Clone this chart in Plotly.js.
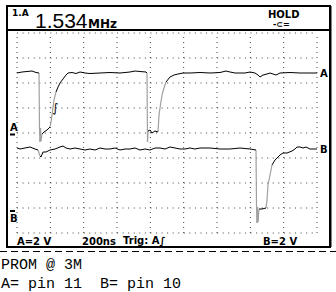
<!DOCTYPE html>
<html><head><meta charset="utf-8">
<script src="https://cdn.plot.ly/plotly-3.0.1.min.js"></script>
<style>html,body{margin:0;padding:0;background:#fff}#chart{width:336px;height:292px}</style>
</head><body><div id="chart"></div>
<script>
// Channel A (pin 11): time in ns, voltage in V (2 V/div, 200 ns/div)
const timeA = [0,30,60,90,114,132,135,138,141,144,150,162,180,198,204,210,216,222,234,246,258,276,294,306,330,354,378,408,438,498,558,618,678,708,738,774,780,783,786,798,810,828,846,852,858,870,882,894,918,942,966,996,1038,1098,1158,1218,1254,1278,1308,1368,1398,1428,1446,1458,1476,1500,1518,1536,1554,1578,1638,1698,1758,1806];
const voltA = [4.80,4.88,4.92,4.96,4.84,4.80,0.40,-0.72,0.40,-0.64,-0.08,0.08,0.24,0.48,0.88,1.44,2.00,2.64,3.28,3.68,4.00,4.32,4.64,4.80,4.84,4.76,4.88,4.80,4.76,4.80,4.84,4.80,4.88,4.96,4.92,4.88,4.80,-0.72,0.16,0.24,0.00,0.16,0.08,1.44,2.00,3.04,3.60,4.08,4.48,4.64,4.72,4.80,4.80,4.84,4.80,4.84,4.96,4.88,4.80,4.80,4.88,4.80,4.64,4.48,4.64,4.72,4.80,4.72,4.64,4.80,4.84,4.80,4.80,4.80];
// Channel B (pin 10)
const timeB = [0,18,48,78,108,126,138,144,156,174,198,228,258,276,294,318,348,378,408,438,468,498,528,558,588,618,648,678,708,738,768,798,828,858,888,918,948,978,1008,1038,1068,1098,1158,1218,1278,1338,1398,1434,1437,1440,1443,1446,1452,1470,1494,1500,1506,1518,1530,1548,1566,1578,1596,1620,1650,1668,1680,1698,1716,1734,1758,1806];
const voltB = [4.96,4.88,4.96,5.04,4.88,4.80,4.32,4.24,4.64,4.64,4.80,4.88,5.04,5.12,4.96,4.88,4.96,4.88,4.80,4.88,4.80,4.96,4.88,4.88,4.96,4.80,4.88,4.88,4.96,4.80,4.88,4.80,4.96,4.96,4.88,5.04,4.96,4.88,4.88,4.96,4.88,4.96,4.96,4.88,4.88,4.96,4.88,4.80,0.40,-1.04,0.24,-0.96,0.08,0.08,0.16,0.80,2.00,2.80,3.60,4.00,4.24,4.40,4.56,4.56,4.72,4.88,5.04,5.04,4.96,5.04,4.88,4.88];

const headerReading = "1.534";
const headerUnit = "MHz";
const statusA = "A=2 V", statusTime = "200ns", statusTrig = "Trig: A∫", statusB = "B=2 V";
const noteLines = ["PROM @ 3M", "A= pin 11  B= pin 10"];

// plot area in pixels
const L = 17, R = 317, T = 33, B = 233, W = 336, H = 292;
const px = x => (x - L) / (R - L);
const py = y => (B - y) / (B - T);

function splitTrace(t, v, yaxis, pxPerV) {
  const blk = {x: [], y: []}, gry = {x: [], y: []};
  for (let i = 0; i < t.length - 1; i++) {
    const dxp = (t[i+1] - t[i]) / 6;
    const dyp = Math.abs(v[i+1] - v[i]) * pxPerV;
    const tgt = (dyp / Math.max(dxp, 0.01) > 2.6) ? gry : blk;
    tgt.x.push(t[i], t[i+1], null);
    tgt.y.push(v[i], v[i+1], null);
  }
  return [
    {x: gry.x, y: gry.y, yaxis: yaxis, mode: 'lines', line: {color: '#a0a0a0', width: 1.2}, hoverinfo: 'skip', showlegend: false},
    {x: blk.x, y: blk.y, yaxis: yaxis, mode: 'lines', line: {color: '#000', width: 1}, hoverinfo: 'skip', showlegend: false}
  ];
}

const data = [].concat(splitTrace(timeA, voltA, 'y', 12.5), splitTrace(timeB, voltB, 'y2', 12.5));

const shapes = [];
// dotted grid
for (let k = 0; k <= 8; k++) {
  const y = T + 25 * k;
  shapes.push({type: 'line', xref: 'paper', yref: 'paper', x0: 0, x1: 1, y0: py(y), y1: py(y), line: {color: '#444', width: 1, dash: '1px,4.56px'}, layer: 'below'});
}
for (let k = 0; k <= 9; k++) {
  const x = L + 100 / 3 * k;
  shapes.push({type: 'line', xref: 'paper', yref: 'paper', x0: px(x), x1: px(x), y0: 0, y1: 1, line: {color: '#444', width: 1, dash: '1px,4px'}, layer: 'below'});
}
// frame
shapes.push({type: 'rect', xref: 'paper', yref: 'paper', x0: px(7), x1: px(330), y0: py(6), y1: py(247), line: {color: '#000', width: 2}});
shapes.push({type: 'line', xref: 'paper', yref: 'paper', x0: px(330.5), x1: px(330.5), y0: py(6), y1: py(247), line: {color: '#000', width: 2}});
shapes.push({type: 'line', xref: 'paper', yref: 'paper', x0: px(7), x1: px(330), y0: py(30), y1: py(30), line: {color: '#000', width: 2}});
// ground markers
shapes.push({type: 'line', xref: 'paper', yref: 'paper', x0: px(10), x1: px(15), y0: py(134.5), y1: py(134.5), line: {color: '#000', width: 2}});
shapes.push({type: 'line', xref: 'paper', yref: 'paper', x0: px(10), x1: px(15), y0: py(211), y1: py(211), line: {color: '#000', width: 2}});
// dashed separator
shapes.push({type: 'line', xref: 'paper', yref: 'paper', x0: px(0), x1: px(336), y0: py(251.5), y1: py(251.5), line: {color: '#000', width: 1, dash: '7px,4px'}});

const bold = {family: 'DejaVu Sans', weight: 'bold', color: '#000'};
function ann(text, x, y, size, opts) {
  return Object.assign({text: text, xref: 'paper', yref: 'paper', x: px(x), y: py(y), showarrow: false,
    xanchor: 'left', yanchor: 'middle', borderpad: 0,
    font: Object.assign({}, bold, {size: size})}, opts || {});
}
const mono = {family: 'Liberation Mono', size: 15, color: '#000'};
const annotations = [
  ann('1.A', 11, 13, 9),
  ann(headerReading, 34, 20, 21, {font: {family: 'Liberation Sans', size: 21, color: '#000'}}),
  ann(headerUnit, 87, 24, 12),
  ann('HOLD', 267, 14, 10),
  ann('-⊂=', 272, 24, 8),
  ann('A', 319, 73, 10),
  ann('B', 319, 149, 10),
  ann('A', 9, 127, 10),
  ann('B', 9, 218, 10),
  ann('∫', 51, 108, 12, {font: {family: 'DejaVu Sans', size: 12, color: '#000'}}),
  ann(statusA, 16, 241, 10),
  ann(statusTime, 81, 241, 10),
  ann(statusTrig, 122, 241, 10),
  ann(statusB, 262, 241, 10),
  ann(noteLines[0], 0, 265, 15, {font: mono}),
  ann(noteLines[1], 0, 284, 15, {font: mono})
];

const layout = {
  width: W, height: H,
  margin: {l: L, r: W - R, t: T, b: H - B, pad: 0},
  paper_bgcolor: '#fff', plot_bgcolor: '#fff',
  xaxis: {range: [0, 1800], showgrid: false, zeroline: false, showticklabels: false, ticks: '', showline: false, fixedrange: true},
  yaxis: {range: [-8, 8], showgrid: false, zeroline: false, showticklabels: false, ticks: '', showline: false},
  yaxis2: {range: [-1.84, 14.16], overlaying: 'y', side: 'right', showgrid: false, zeroline: false, showticklabels: false, ticks: '', showline: false},
  shapes: shapes, annotations: annotations, showlegend: false
};
Plotly.newPlot('chart', data, layout, {staticPlot: true, displayModeBar: false});
</script></body></html>
